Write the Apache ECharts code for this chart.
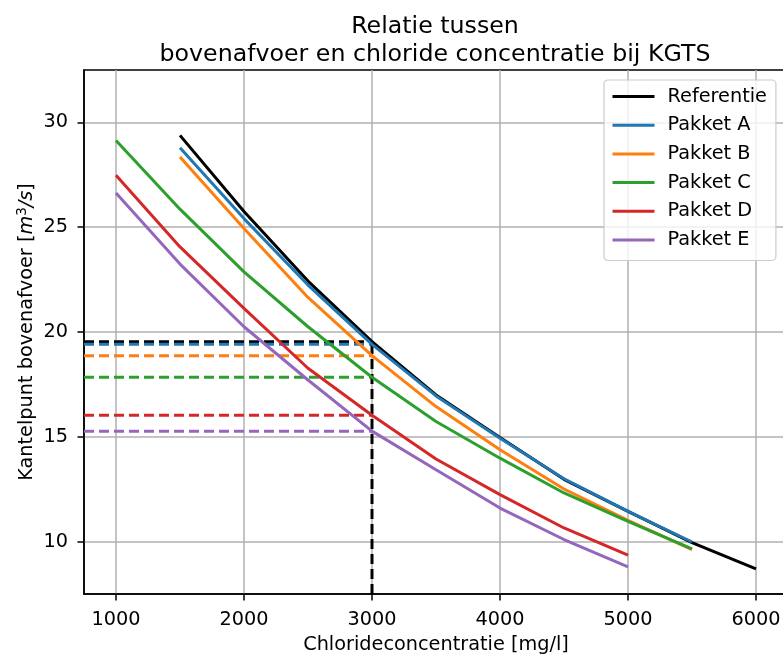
<!DOCTYPE html>
<html><head><meta charset="utf-8">
<script src="https://cdn.jsdelivr.net/npm/echarts@6/dist/echarts.min.js"></script>
<style>html,body{margin:0;padding:0;background:#fff}#c{width:783px;height:654px}</style>
</head><body><div id="c"></div>
<script>
// Chloride concentration [mg/l]
const chloride = [1000, 1500, 2000, 2500, 3000, 3500, 4000, 4500, 5000, 5500, 6000];
// Kantelpunt bovenafvoer [m3/s]
const referentie = [null, 29.38, 25.75, 22.43, 19.54, 17.00, 14.97, 12.97, 11.44, 9.95, 8.70];
const pakketA    = [null, 28.79, 25.41, 22.24, 19.41, 16.95, 14.93, 13.00, 11.44, 9.98, null];
const pakketB    = [null, 28.35, 24.94, 21.65, 18.87, 16.44, 14.38, 12.51, 11.01, 9.62, null];
const pakketC    = [29.14, 25.86, 22.87, 20.25, 17.84, 15.73, 13.98, 12.32, 10.97, 9.65, null];
const pakketD    = [27.48, 24.06, 21.13, 18.27, 16.03, 13.94, 12.24, 10.65, 9.35, null, null];
const pakketE    = [26.63, 23.24, 20.25, 17.71, 15.27, 13.43, 11.60, 10.10, 8.79, null, null];
const seriesNames = ['Referentie', 'Pakket A', 'Pakket B', 'Pakket C', 'Pakket D', 'Pakket E'];
const xTicks = [1000, 2000, 3000, 4000, 5000, 6000];
const yTicks = [10, 15, 20, 25, 30];
const drempel = 3000;

const allData = [referentie, pakketA, pakketB, pakketC, pakketD, pakketE];
const colors = ['#000000', '#1f77b4', '#ff7f0e', '#2ca02c', '#d62728', '#9467bd'];
const xMin = 750, xMax = 6250, yMin = 7.5, yMax = 32.5;
const FONT = 'DejaVu Sans';
const FS = 19.3;

function pairs(arr) {
  const out = [];
  chloride.forEach((x, i) => { if (arr[i] != null) out.push([x, arr[i]]); });
  return out;
}
const idx = chloride.indexOf(drempel);

const series = [];
allData.forEach((arr, k) => {
  series.push({
    name: seriesNames[k], type: 'line', data: pairs(arr), symbol: 'none',
    lineStyle: { color: colors[k], width: 3 }, itemStyle: { color: colors[k] },
    z: 3, animation: false
  });
});
allData.forEach((arr, k) => {
  series.push({
    name: seriesNames[k] + ' (drempel)', type: 'line', symbol: 'none',
    data: [[xMin, arr[idx]], [drempel, arr[idx]]],
    lineStyle: { color: colors[k], width: 3, type: [10, 5] }, z: 2, animation: false
  });
});
series.push({
  name: 'drempel verticaal', type: 'line', symbol: 'none',
  data: [[drempel, yMin], [drempel, referentie[idx]]],
  lineStyle: { color: '#000', width: 3, type: [10, 5] }, z: 2, animation: false
});

const chart = echarts.init(document.getElementById('c'), null, { renderer: 'canvas' });
chart.setOption({
  backgroundColor: '#fff',
  animation: false,
  textStyle: { fontFamily: FONT },
  title: {
    text: 'Relatie tussen\nbovenafvoer en chloride concentratie bij KGTS',
    left: 435, top: 13, textAlign: 'center', padding: 0,
    textStyle: { fontFamily: FONT, fontSize: 23.7, fontWeight: 'normal', color: '#000', lineHeight: 27.6 }
  },
  grid: { left: 84, top: 70, right: -5, bottom: 60, show: true, borderColor: '#000', borderWidth: 1.5, containLabel: false, outerBoundsMode: 'none' },
  legend: {
    data: seriesNames, orient: 'vertical', left: 604, top: 80,
    itemWidth: 42, itemHeight: 14, itemGap: 9.7,
    padding: [7, 9, 11, 7],
    backgroundColor: 'rgba(255,255,255,0.8)', borderColor: '#cccccc', borderWidth: 1.2, borderRadius: 4,
    textStyle: { fontFamily: FONT, fontSize: FS, color: '#000', padding: [0, 0, 0, 8] },
    itemStyle: { opacity: 0 },
    lineStyle: { width: 3 }
  },
  xAxis: {
    type: 'value', min: xMin, max: xMax,
    name: 'Chlorideconcentratie [mg/l]', nameLocation: 'middle', nameGap: 41,
    nameTextStyle: { fontFamily: FONT, fontSize: FS, color: '#000' },
    axisLine: { show: true, onZero: false, lineStyle: { color: '#000', width: 1.5 } },
    axisTick: { show: true, inside: false, length: 6.5, customValues: xTicks, lineStyle: { color: '#000', width: 1.5 } },
    axisLabel: { customValues: xTicks, margin: 16, fontFamily: FONT, fontSize: FS, color: '#000', formatter: v => String(v) },
    splitLine: { show: true, customValues: xTicks, lineStyle: { color: '#b0b0b0', width: 1.5 } }
  },
  yAxis: {
    type: 'value', min: yMin, max: yMax,
    name: '{n|Kantelpunt bovenafvoer [}{i|m}{sup|3}{i|/s}{n|]}', nameLocation: 'middle', nameGap: 46, nameRotate: 90,
    nameMoveOverlap: false,
    nameTextStyle: {
      fontFamily: FONT, fontSize: FS, color: '#000',
      rich: {
        n: { fontFamily: FONT, fontSize: FS, color: '#000' },
        i: { fontFamily: FONT, fontSize: FS, fontStyle: 'italic', color: '#000' },
        sup: { fontFamily: FONT, fontSize: 13.5, color: '#000', padding: [0, 0, 9, 0] }
      }
    },
    axisLine: { show: true, onZero: false, lineStyle: { color: '#000', width: 1.5 } },
    axisTick: { show: true, inside: false, length: 6.5, customValues: yTicks, lineStyle: { color: '#000', width: 1.5 } },
    axisLabel: { customValues: yTicks, margin: 16, fontFamily: FONT, fontSize: FS, color: '#000', formatter: v => String(v) },
    splitLine: { show: true, customValues: yTicks, lineStyle: { color: '#b0b0b0', width: 1.5 } }
  },
  series: series
});
</script></body></html>
